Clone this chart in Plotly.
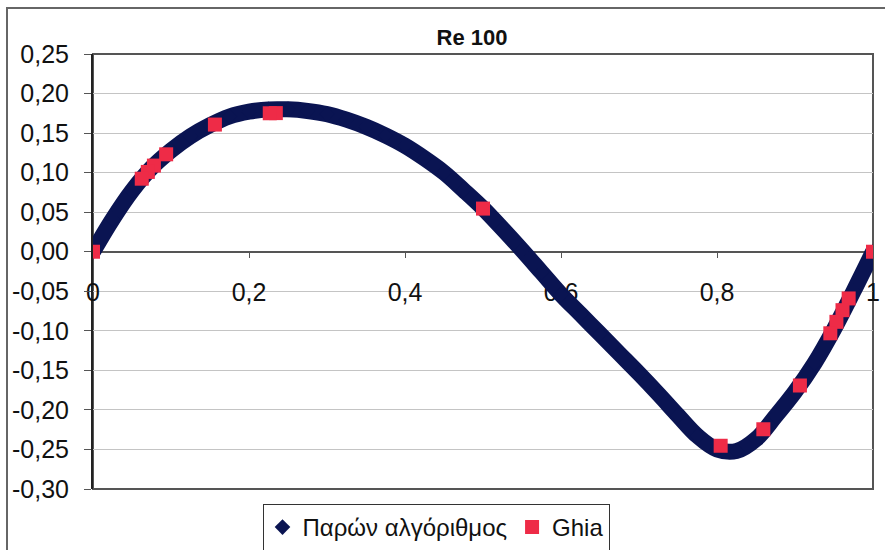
import plotly.graph_objects as go

# Vertical velocity along the horizontal centreline, lid-driven cavity, Re = 100
x_alg = [0.000, 0.025, 0.050, 0.075, 0.100, 0.125, 0.150, 0.175, 0.200, 0.225,
         0.250, 0.275, 0.300, 0.325, 0.350, 0.375, 0.400, 0.425, 0.450, 0.475,
         0.500, 0.525, 0.550, 0.575, 0.600, 0.625, 0.650, 0.675, 0.700, 0.725,
         0.750, 0.775, 0.800, 0.825, 0.850, 0.875, 0.900, 0.925, 0.950, 0.975,
         1.000]
v_alg = [0.000, 0.041, 0.077, 0.106, 0.128, 0.146, 0.160, 0.171, 0.177, 0.180,
         0.180, 0.178, 0.174, 0.167, 0.158, 0.147, 0.134, 0.118, 0.100, 0.078,
         0.055, 0.029, 0.002, -0.026, -0.054, -0.079, -0.104, -0.129, -0.154, -0.180,
         -0.207, -0.233, -0.250, -0.252, -0.237, -0.208, -0.177, -0.141, -0.098, -0.050,
         0.000]

# Ghia et al. (1982) reference values
x_ghia = [1.0000, 0.9688, 0.9609, 0.9531, 0.9453, 0.9063, 0.8594, 0.8047, 0.5000,
          0.2344, 0.2266, 0.1563, 0.0938, 0.0781, 0.0703, 0.0625, 0.0000]
v_ghia = [0.00000, -0.05906, -0.07391, -0.08864, -0.10313, -0.16914, -0.22445,
          -0.24533, 0.05454, 0.17527, 0.17507, 0.16077, 0.12317, 0.10890, 0.10091,
          0.09233, 0.00000]

y_ticks = [0.25, 0.20, 0.15, 0.10, 0.05, 0.00, -0.05, -0.10, -0.15, -0.20, -0.25, -0.30]
y_labels = ["0,25", "0,20", "0,15", "0,10", "0,05", "0,00",
            "-0,05", "-0,10", "-0,15", "-0,20", "-0,25", "-0,30"]
x_ticks = [0, 0.2, 0.4, 0.6, 0.8, 1.0]
x_labels = ["0", "0,2", "0,4", "0,6", "0,8", "1"]

NAVY = "#0a1452"
RED = "#ee2b47"
FONT = "Liberation Sans, Arial, sans-serif"

fig = go.Figure()

# thick continuous curve of the present algorithm
fig.add_trace(go.Scatter(
    x=x_alg, y=v_alg, mode="lines", line=dict(color=NAVY, width=16, shape="spline"),
    showlegend=False, hoverinfo="skip", legendgroup="alg",
))
fig.add_trace(go.Scatter(
    x=x_alg, y=v_alg, mode="markers", name="Παρών αλγόριθμος", legendgroup="alg",
    marker=dict(symbol="diamond", size=12, color=NAVY),
))
fig.add_trace(go.Scatter(
    x=x_ghia, y=v_ghia, mode="markers", name="Ghia",
    marker=dict(symbol="square", size=14, color=RED),
))

PL, PR, PT, PB = 93, 873, 54, 489
W, H = 885, 550


def px_x(p):
    return (p - PL) / (PR - PL)


def px_y(p):
    return (PB - p) / (PB - PT)


fig.update_layout(
    width=W, height=H,
    margin=dict(l=PL, r=W - PR, t=PT, b=H - PB, autoexpand=False),
    paper_bgcolor="white", plot_bgcolor="white",
    font=dict(family=FONT, color="#111111"),
    title=dict(text="<b>Re 100</b>", x=px_x(472), xref="paper", xanchor="center",
               y=1 - 37 / H, yref="container", yanchor="middle",
               font=dict(size=22, family=FONT, color="#111111")),
    xaxis=dict(
        range=[0, 1], tickvals=x_ticks, ticktext=x_labels,
        anchor="free", position=0.30 / 0.55,
        showline=True, linecolor="#555555", linewidth=1.5,
        ticks="outside", ticklen=6, tickcolor="#555555",
        ticklabelstandoff=13,
        showgrid=False, zeroline=False, layer="below traces",
        tickfont=dict(size=25, family=FONT, color="#111111"),
    ),
    yaxis=dict(
        range=[-0.30, 0.25], tickvals=y_ticks, ticktext=y_labels,
        showline=True, linecolor="#222222", linewidth=2,
        ticks="outside", ticklen=7, tickcolor="#555555",
        ticklabelstandoff=10,
        showgrid=True, gridcolor="#c4c4c4", gridwidth=1,
        zeroline=False, layer="below traces",
        tickfont=dict(size=25, family=FONT, color="#111111"),
    ),
    legend=dict(
        orientation="h", x=px_x(436), xanchor="center", y=px_y(504), yanchor="top",
        bordercolor="#333333", borderwidth=1, bgcolor="white",
        font=dict(size=24, family=FONT, color="#111111"),
        itemwidth=30, tracegroupgap=0,
    ),
    shapes=[
        # plot-area frame
        dict(type="rect", xref="paper", yref="paper", x0=0, x1=1, y0=0, y1=1,
             line=dict(color="#555555", width=2), layer="below"),
        # chart outer border
        dict(type="rect", xref="paper", yref="paper",
             x0=px_x(7), x1=px_x(900), y0=px_y(565), y1=px_y(8),
             line=dict(color="#666666", width=2), layer="below"),
    ],
    showlegend=True,
)

fig.write_html("out.html")
